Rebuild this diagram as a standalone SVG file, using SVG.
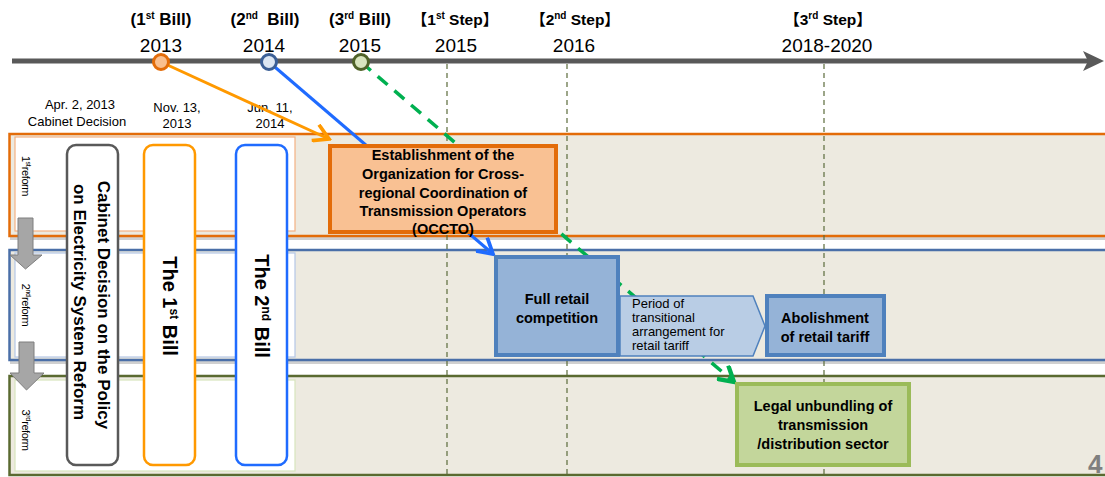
<svg xmlns="http://www.w3.org/2000/svg" width="1105" height="477" viewBox="0 0 1105 477">
<style>
  text { font-family: "Liberation Sans", "Noto Sans CJK JP", sans-serif; fill: #000; }
  .bill { font-size: 17px; font-weight: bold; text-anchor: middle; }
  .year { font-size: 19px; text-anchor: middle; }
  .step { font-size: 15.5px; font-weight: bold; text-anchor: middle; }
  .date { font-size: 13px; text-anchor: middle; }
  .band { fill: #edeae0; stroke-width: 2.5; }
  .panel { fill: #ffffff; stroke-width: 1.2; }
  .vline { stroke: #5b6b3b; stroke-width: 1.2; stroke-dasharray: 5 4; fill: none; }
  .reform { font-size: 11px; text-anchor: middle; letter-spacing: -0.4px; }
  .vbox { fill: #ffffff; stroke-width: 2.5; }
  .vtext { font-weight: bold; text-anchor: middle; }
  .boxt { font-weight: bold; text-anchor: middle; font-size: 14.5px; }
  .darrow { fill: #a6a6a6; stroke: #7f7f7f; stroke-width: 1; }
</style>
<defs>
  <marker id="mOrange" markerUnits="userSpaceOnUse" markerWidth="20" markerHeight="20" refX="14" refY="8" orient="auto" viewBox="0 0 16 16">
    <path d="M2,1 L14,8 L2,15" fill="none" stroke="#ff9900" stroke-width="3" stroke-linejoin="miter"/>
  </marker>
  <marker id="mBlue" markerUnits="userSpaceOnUse" markerWidth="20" markerHeight="20" refX="14" refY="8" orient="auto" viewBox="0 0 16 16">
    <path d="M2,1 L14,8 L2,15" fill="none" stroke="#1f6bff" stroke-width="3"/>
  </marker>
  <marker id="mGreen" markerUnits="userSpaceOnUse" markerWidth="20" markerHeight="20" refX="14" refY="8" orient="auto" viewBox="0 0 16 16">
    <path d="M2,1 L14,8 L2,15" fill="none" stroke="#00b050" stroke-width="3.5"/>
  </marker>
</defs>
<rect width="1105" height="477" fill="#ffffff"/>

<!-- Bands -->
<g id="band1">
  <rect x="10" y="237" width="1095" height="3" fill="#d0d0d0"/>
  <rect class="band" x="9.5" y="134" width="1100" height="102" stroke="#e36c09"/>
  <rect class="panel" x="15" y="137" width="280" height="94" stroke="#f4b183"/>
  <text class="reform" transform="translate(26,176) rotate(90)" dy="0.35em">1<tspan dy="-4" font-size="7">st</tspan><tspan dy="4" dx="0.5">reform</tspan></text>
</g>
<g id="band2">
  <rect x="10" y="361" width="1095" height="3" fill="#d0d0d0"/>
  <rect class="band" x="9.5" y="250" width="1100" height="110" stroke="#4a6fa8" stroke-width="2"/>
  <rect class="panel" x="15" y="253" width="280" height="104" stroke="#b4c7e7"/>
  <text class="reform" transform="translate(26,305) rotate(90)" dy="0.35em">2<tspan dy="-4" font-size="7">nd</tspan><tspan dy="4" dx="0.5">reform</tspan></text>
</g>
<g id="band3">
  <rect class="band" x="9.5" y="376" width="1100" height="99" stroke="#5a6a30" stroke-width="2"/>
  <rect class="panel" x="15" y="380" width="280" height="91" stroke="#d7e4bd"/>
  <text class="reform" transform="translate(26,430) rotate(90)" dy="0.35em">3<tspan dy="-4" font-size="7">rd</tspan><tspan dy="4" dx="0.5">reform</tspan></text>
</g>

<!-- Step dashed lines -->
<g id="steplines">
  <line class="vline" x1="447" y1="64" x2="447" y2="477"/>
  <line class="vline" x1="567" y1="64" x2="567" y2="477"/>
  <line class="vline" x1="824" y1="64" x2="824" y2="477"/>
</g>

<!-- Gray down arrows -->
<g id="reformArrows">
  <path class="darrow" d="M18,218 L33,218 L33,255 L42,255 L25.5,269 L10,255 L18,255 Z"/>
  <path class="darrow" d="M19,342 L34,342 L34,373 L44,373 L26.5,390 L10,373 L19,373 Z"/>
</g>

<!-- Timeline -->
<g id="timeline">
  <line x1="12" y1="61" x2="1088" y2="61" stroke="#595959" stroke-width="5"/>
  <polygon points="1083,51 1104,61 1083,71 1088,61" fill="#595959"/>
  <text class="bill" x="161" y="25">(1<tspan dy="-6" font-size="10">st</tspan><tspan dy="6"> Bill)</tspan></text>
  <text class="bill" x="265" y="25" xml:space="preserve">(2<tspan dy="-6" font-size="10">nd</tspan><tspan dy="6">  Bill)</tspan></text>
  <text class="bill" x="360" y="25">(3<tspan dy="-6" font-size="10">rd</tspan><tspan dy="6"> Bill)</tspan></text>
  <text class="step" x="455" y="25">【1<tspan dy="-6" font-size="10">st</tspan><tspan dy="6"> Step】</tspan></text>
  <text class="step" x="575" y="25">【2<tspan dy="-6" font-size="10">nd</tspan><tspan dy="6"> Step】</tspan></text>
  <text class="step" x="828" y="25">【3<tspan dy="-6" font-size="10">rd</tspan><tspan dy="6"> Step】</tspan></text>
  <text class="year" x="161" y="52">2013</text>
  <text class="year" x="264" y="52">2014</text>
  <text class="year" x="360" y="52">2015</text>
  <text class="year" x="456" y="52">2015</text>
  <text class="year" x="574" y="52">2016</text>
  <text class="year" x="827" y="52">2018-2020</text>
  <text class="date" x="80" y="109">Apr. 2, 2013</text>
  <text class="date" x="77" y="126">Cabinet Decision</text>
  <text class="date" x="177" y="112">Nov. 13,</text>
  <text class="date" x="177" y="128">2013</text>
  <text class="date" x="270" y="112">Jun. 11,</text>
  <text class="date" x="270" y="128">2014</text>
</g>

<!-- Connectors -->
<g id="connectors" fill="none" stroke-linecap="butt">
  <line x1="161" y1="62" x2="329" y2="139" stroke="#ff9900" stroke-width="3" marker-end="url(#mOrange)"/>
  <line x1="269" y1="62" x2="493" y2="254" stroke="#1f6bff" stroke-width="3" marker-end="url(#mBlue)"/>
  <line x1="361" y1="62" x2="734" y2="382" stroke="#00b050" stroke-width="3.5" stroke-dasharray="13 9" marker-end="url(#mGreen)"/>
</g>

<!-- Timeline circles -->
<g id="milestones" stroke-width="3">
  <circle cx="161" cy="62" r="7.5" fill="#f9bf8f" stroke="#e36c09"/>
  <circle cx="269" cy="62" r="7.5" fill="#dce6f2" stroke="#3b5f96"/>
  <circle cx="361" cy="62" r="7.5" fill="#d7e4bd" stroke="#4f6228"/>
</g>

<!-- Vertical policy boxes -->
<g id="cabinet">
  <rect class="vbox" x="67" y="145" width="51" height="320" rx="9" stroke="#595959"/>
  <text class="vtext" font-size="17" transform="translate(104,305) rotate(90)" dy="0.35em">Cabinet Decision on the Policy</text>
  <text class="vtext" font-size="17" transform="translate(80,302) rotate(90)" dy="0.35em">on Electricity System Reform</text>
</g>
<g id="bill1">
  <rect class="vbox" x="144" y="145" width="51" height="320" rx="9" stroke="#ff9900"/>
  <text class="vtext" font-size="20" transform="translate(170,306) rotate(90)" dy="0.35em">The 1<tspan dy="-7" font-size="12">st</tspan><tspan dy="7"> Bill</tspan></text>
</g>
<g id="bill2">
  <rect class="vbox" x="236" y="145" width="51" height="320" rx="9" stroke="#1f6bff"/>
  <text class="vtext" font-size="20" transform="translate(262,306) rotate(90)" dy="0.35em">The 2<tspan dy="-7" font-size="12">nd</tspan><tspan dy="7"> Bill</tspan></text>
</g>

<!-- Process boxes -->
<g id="occto">
  <rect x="330" y="146" width="226" height="86" fill="#f9c193" stroke="#e36c09" stroke-width="4"/>
  <text class="boxt" x="443" y="160">Establishment of the</text>
  <text class="boxt" x="443" y="179">Organization for Cross-</text>
  <text class="boxt" x="443" y="198">regional Coordination of</text>
  <text class="boxt" x="443" y="216">Transmission Operators</text>
  <text class="boxt" x="443" y="234">(OCCTO)</text>
</g>
<g id="fullRetail">
  <rect x="496" y="257" width="122" height="98" fill="#95b3d7" stroke="#4f81bd" stroke-width="4"/>
  <text class="boxt" font-size="15" x="557" y="304">Full retail</text>
  <text class="boxt" font-size="15" x="557" y="323">competition</text>
</g>
<g id="transitional">
  <polygon points="620,296 753,296 765,326 753,356 620,356" fill="#b9cde5" stroke="#4f81bd" stroke-width="1.5"/>
  <text font-size="13" x="632" y="308">Period of</text>
  <text font-size="13" x="632" y="322">transitional</text>
  <text font-size="13" x="632" y="336">arrangement for</text>
  <text font-size="13" x="632" y="350">retail tariff</text>
</g>
<g id="abolishment">
  <rect x="767" y="296" width="117" height="59" fill="#95b3d7" stroke="#4f81bd" stroke-width="4"/>
  <text class="boxt" font-size="15" x="825" y="323">Abolishment</text>
  <text class="boxt" font-size="15" x="825" y="342">of retail tariff</text>
</g>
<g id="unbundling">
  <rect x="737" y="384" width="172" height="81" fill="#c3d69b" stroke="#9bbb59" stroke-width="4"/>
  <text class="boxt" x="823" y="411">Legal unbundling of</text>
  <text class="boxt" x="823" y="430">transmission</text>
  <text class="boxt" x="823" y="449">/distribution sector</text>
</g>

<text x="1088" y="473" font-size="26" font-weight="bold" style="fill:#7f7f7f">4</text>
</svg>
